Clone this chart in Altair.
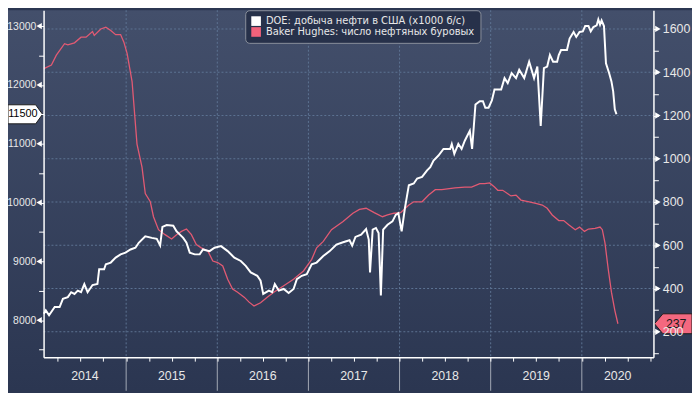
import altair as alt
import pandas as pd

FONT = "Liberation Sans"
LFONT = "DejaVu Sans"
DOE_NAME = "DOE: добыча нефти в США (х1000 б/с)"
RIG_NAME = "Baker Hughes: число нефтяных буровых"

# DOE weekly crude production (thousand b/d), x as decimal year
doe_year = [2014.097, 2014.118, 2014.154, 2014.216, 2014.27, 2014.306, 2014.36, 2014.397, 2014.433, 2014.469,
            2014.505, 2014.541, 2014.577, 2014.631, 2014.685, 2014.704, 2014.758, 2014.777, 2014.831, 2014.885,
            2014.939, 2014.993, 2015.048, 2015.102, 2015.138, 2015.21, 2015.282, 2015.336, 2015.373, 2015.398,
            2015.445, 2015.517, 2015.553, 2015.59, 2015.626, 2015.662, 2015.698, 2015.753, 2015.807, 2015.843,
            2015.915, 2015.97, 2016.041, 2016.114, 2016.187, 2016.258, 2016.312, 2016.367, 2016.439, 2016.475,
            2016.504, 2016.566, 2016.602, 2016.631, 2016.675, 2016.729, 2016.783, 2016.837, 2016.873, 2016.927,
            2016.982, 2017.036, 2017.09, 2017.163, 2017.234, 2017.307, 2017.38, 2017.451, 2017.48, 2017.516,
            2017.578, 2017.633, 2017.662, 2017.676, 2017.705, 2017.741, 2017.77, 2017.795, 2017.82, 2017.868,
            2017.922, 2017.958, 2017.987, 2018.023, 2018.059, 2018.102, 2018.156, 2018.193, 2018.247, 2018.302,
            2018.337, 2018.373, 2018.427, 2018.482, 2018.555, 2018.573, 2018.601, 2018.645, 2018.681, 2018.716,
            2018.753, 2018.771, 2018.796, 2018.833, 2018.88, 2018.915, 2018.941, 2018.977, 2019.013, 2019.042,
            2019.115, 2019.152, 2019.187, 2019.23, 2019.278, 2019.313, 2019.368, 2019.422, 2019.476, 2019.512,
            2019.549, 2019.584, 2019.62, 2019.65, 2019.685, 2019.729, 2019.747, 2019.772, 2019.837, 2019.866,
            2019.91, 2019.939, 2019.975, 2020.011, 2020.037, 2020.073, 2020.098, 2020.127, 2020.163, 2020.181,
            2020.2, 2020.217, 2020.243, 2020.265, 2020.30, 2020.325, 2020.344, 2020.362, 2020.38]
doe_value = [8111, 8167, 8083, 8224, 8224, 8363, 8392, 8476, 8447, 8503,
             8476, 8615, 8476, 8598, 8615, 8867, 8867, 8951, 8980, 9064,
             9119, 9148, 9203, 9232, 9316, 9427, 9400, 9383, 9270, 9585,
             9618, 9606, 9511, 9455, 9400, 9316, 9148, 9119, 9119, 9203,
             9175, 9232, 9259, 9175, 9064, 9007, 8923, 8812, 8755, 8671,
             8447, 8503, 8476, 8615, 8503, 8531, 8464, 8531, 8699, 8755,
             8783, 8951, 8980, 9091, 9175, 9287, 9326, 9359, 9270, 9416,
             9455, 9551, 9371, 8812, 9539, 9568, 9484, 8419, 9539, 9623,
             9679, 9791, 9819, 9511, 9904, 10295, 10324, 10408, 10435, 10547,
             10603, 10715, 10799, 10911, 10911, 10996, 10828, 10996, 10911, 11051,
             11164, 11219, 10911, 11668, 11723, 11723, 11611, 11611, 11735, 11920,
             11920, 12115, 12031, 12199, 12115, 12256, 12115, 12395, 12115, 12311,
             11303, 12283, 12311, 12508, 12395, 12395, 12508, 12592, 12592, 12787,
             12899, 12815, 12899, 12910, 13000, 13000, 12910, 12983, 13011, 13112,
             13022, 13096, 13000, 12367, 12199, 12059, 11891, 11584, 11500]

# Baker Hughes US oil rig count
rig_year = [2014.097, 2014.18, 2014.234, 2014.324, 2014.36, 2014.433, 2014.505, 2014.56, 2014.631, 2014.65,
            2014.722, 2014.777, 2014.831, 2014.885, 2014.939, 2014.975, 2015.011, 2015.065, 2015.119, 2015.174,
            2015.21, 2015.265, 2015.30, 2015.355, 2015.427, 2015.499, 2015.553, 2015.607, 2015.662, 2015.716,
            2015.77, 2015.824, 2015.897, 2015.951, 2016.005, 2016.06, 2016.114, 2016.168, 2016.223, 2016.295,
            2016.349, 2016.403, 2016.475, 2016.548, 2016.62, 2016.729, 2016.837, 2016.946, 2017.036, 2017.09,
            2017.163, 2017.253, 2017.38, 2017.488, 2017.56, 2017.633, 2017.722, 2017.813, 2017.868, 2017.939,
            2018.012, 2018.102, 2018.156, 2018.247, 2018.319, 2018.392, 2018.464, 2018.608, 2018.716, 2018.79,
            2018.88, 2018.934, 2018.988, 2019.042, 2019.078, 2019.132, 2019.223, 2019.278, 2019.332, 2019.422,
            2019.495, 2019.566, 2019.62, 2019.675, 2019.747, 2019.801, 2019.856, 2019.928, 2019.975, 2020.029,
            2020.073, 2020.145, 2020.2, 2020.225, 2020.254, 2020.29, 2020.325, 2020.362, 2020.396]
rig_value = [1417, 1433, 1479, 1532, 1527, 1536, 1562, 1562, 1588, 1570,
             1600, 1608, 1593, 1574, 1574, 1539, 1486, 1357, 1068, 961,
             839, 801, 732, 672, 649, 629, 649, 664, 675, 649,
             603, 588, 573, 527, 520, 504, 443, 398, 383, 360,
             337, 319, 334, 360, 383, 413, 443, 481, 535, 588,
             618, 672, 710, 748, 766, 771, 751, 732, 740, 748,
             751, 786, 801, 801, 832, 857, 857, 865, 869, 869,
             885, 885, 888, 869, 854, 854, 828, 832, 809, 801,
             794, 786, 771, 740, 714, 714, 695, 672, 684, 664,
             675, 678, 684, 672, 611, 489, 383, 299, 237]

year_starts = [2015, 2016, 2017, 2018, 2019, 2020]
year_label_pos = [2014.547, 2015.5, 2016.5, 2017.5, 2018.5, 2019.5, 2020.393]
year_labels = ["2014", "2015", "2016", "2017", "2018", "2019", "2020"]
quarter_ticks = [2014.25, 2014.5, 2014.75, 2015.0, 2015.25, 2015.5, 2015.75, 2016.0, 2016.25, 2016.5,
                 2016.75, 2017.0, 2017.25, 2017.5, 2017.75, 2018.0, 2018.25, 2018.5, 2018.75, 2019.0,
                 2019.25, 2019.5, 2019.75, 2020.0, 2020.25, 2020.5, 2020.75]
left_ticks = [7500, 8000, 8500, 9000, 9500, 10000, 10500, 11000, 11500, 12000, 12500, 13000]
left_major = [8000, 9000, 10000, 11000, 12000, 13000]
right_ticks = [100, 200, 300, 400, 500, 600, 700, 800, 900, 1000, 1100, 1200, 1300, 1400, 1500, 1600, 1700]
right_major = [200, 400, 600, 800, 1000, 1200, 1400, 1600]

W, H = 617, 351
X_DOMAIN = [2014.094, 2020.786]
LABEL = "#e8e8e8"
GRID = "#5d7393"
PINK_LINE = "#e25a73"
PINK = "#f2627b"

x_scale = alt.Scale(domain=X_DOMAIN, nice=False, zero=False)
x_axis = alt.Axis(values=quarter_ticks, labels=False, tickSize=4, tickColor="white", tickWidth=1,
                  domainColor="white", domainWidth=1.5, grid=False, title=None, orient="bottom", zindex=1)


def xenc(field):
    return alt.X(f"{field}:Q", scale=x_scale, axis=x_axis)


ls = alt.Scale(domain=[7372, 13269], nice=False, zero=False)
rs = alt.Scale(domain=[82.5, 1686.8], nice=False, zero=False)
l_axis = alt.Axis(orient="left", values=left_ticks, format="d",
                  labelExpr="datum.value % 1000 == 0 ? datum.label : ''",
                  tickSize=5, tickColor="white", tickWidth=1, domainColor="white", domainWidth=1.5,
                  labelColor=LABEL, labelFont=FONT, labelFontSize=10.5, labelPadding=3,
                  grid=False, title=None, zindex=1)
r_axis = alt.Axis(orient="right", values=right_ticks, format="d",
                  labelExpr="datum.value % 200 == 0 ? datum.label : ''",
                  tickSize=5, tickColor="white", tickWidth=1, domainColor="white", domainWidth=1.5,
                  labelColor=LABEL, labelFont=FONT, labelFontSize=12.5, labelPadding=4,
                  grid=False, title=None, zindex=1)

color_scale = alt.Scale(domain=[DOE_NAME, RIG_NAME], range=["#ffffff", PINK])
legend = alt.Legend(title=None, orient="none", legendX=204, legendY=0, fillColor="#27314a",
                    strokeColor="#8a909c", cornerRadius=4, padding=6, symbolType="square",
                    symbolSize=95, symbolStrokeWidth=0, labelFont=LFONT, labelFontSize=10,
                    labelColor=LABEL, rowPadding=1, labelOffset=5, labelLimit=400, symbolOpacity=1)

doe_df = pd.DataFrame({"year": doe_year, "value": doe_value})
rig_df = pd.DataFrame({"year": rig_year, "value": rig_value})
one = pd.DataFrame({"a": [0]})

gradient = alt.LinearGradient(gradient="linear",
                              stops=[alt.GradientStop(color="#434f6b", offset=0),
                                     alt.GradientStop(color="#2b3651", offset=1)],
                              x1=0, x2=0, y1=0, y2=1)
bg = alt.Chart(one).mark_rect(color=gradient).encode(
    x=alt.value(-36), x2=alt.value(W + 39), y=alt.value(0), y2=alt.value(H + 34))

years_df = pd.DataFrame({"year": year_starts})
vgrid = alt.Chart(years_df).mark_rule(color=GRID, strokeDash=[2, 2], strokeWidth=1).encode(
    x=xenc("year"), y=alt.value(0), y2=alt.value(H))
seps = alt.Chart(years_df).mark_rule(color="#a3a9b5", strokeWidth=1).encode(
    x=xenc("year"), y=alt.value(H), y2=alt.value(H + 34))
ylabels = alt.Chart(pd.DataFrame({"pos": year_label_pos, "label": year_labels})).mark_text(
    color=LABEL, font=FONT, fontSize=12.5, baseline="middle").encode(
    x=xenc("pos"), y=alt.value(H + 19), text="label:N")

# legend driver (invisible squares; legend symbols drawn fully opaque)
legend_layer = alt.Chart(pd.DataFrame({"series": [DOE_NAME, RIG_NAME]})).mark_square(
    opacity=0, size=100).encode(
    x=alt.value(0), y=alt.value(0),
    color=alt.Color("series:N", scale=color_scale, legend=legend))

# right (rig count) group
hgrid = alt.Chart(pd.DataFrame({"v": right_major})).mark_rule(
    color=GRID, strokeDash=[2, 2], strokeWidth=1).encode(
    y=alt.Y("v:Q", scale=rs, axis=r_axis), x=alt.value(0), x2=alt.value(W))
rig_line = alt.Chart(rig_df).mark_line(strokeWidth=1.3, color=PINK_LINE).encode(
    x=xenc("year"), y=alt.Y("value:Q", scale=rs, axis=r_axis))
rtri = alt.Chart(pd.DataFrame({"v": right_major})).mark_point(
    shape="triangle-right", filled=True, color="white", size=40, opacity=1).encode(
    x=alt.value(W + 4.5), y=alt.Y("v:Q", scale=rs, axis=r_axis))
rig_last = pd.DataFrame({"v": [rig_value[-1]]})
PATH_L = "M1,-0.53 L-0.55,-0.53 L-1,0 L-0.55,0.53 L1,0.53 Z"
rbadge = alt.Chart(rig_last).mark_point(
    shape=PATH_L, size=38 * 38, filled=True, fill="#f4687f", stroke="#1e1e1e", strokeWidth=1,
    opacity=1).encode(x=alt.value(W + 20), y=alt.Y("v:Q", scale=rs, axis=r_axis))
rtext = alt.Chart(rig_last).mark_text(color="#1a1a1a", font=FONT, fontSize=12.5, baseline="middle").encode(
    x=alt.value(W + 23), y=alt.Y("v:Q", scale=rs, axis=r_axis), text=alt.Text("v:Q", format="d"))
right_group = alt.layer(hgrid, rig_line, rtri, rbadge, rtext)

# left (DOE) group
doe_line = alt.Chart(doe_df).mark_line(strokeWidth=2, color="white").encode(
    x=xenc("year"), y=alt.Y("value:Q", scale=ls, axis=l_axis))
ltri = alt.Chart(pd.DataFrame({"v": left_major})).mark_point(
    shape="triangle-left", filled=True, color="white", size=40, opacity=1).encode(
    x=alt.value(-4.5), y=alt.Y("v:Q", scale=ls, axis=l_axis))
doe_last = pd.DataFrame({"v": [doe_value[-1]]})
PATH_R = "M-1,-0.55 L0.6,-0.55 L1,0 L0.6,0.55 L-1,0.55 Z"
lbadge = alt.Chart(doe_last).mark_point(
    shape=PATH_R, size=35 * 35, filled=True, fill="white", stroke="#1e1e1e", strokeWidth=1,
    opacity=1).encode(x=alt.value(-18.5), y=alt.Y("v:Q", scale=ls, axis=l_axis))
ltext = alt.Chart(doe_last).mark_text(color="#000000", font=FONT, fontSize=11, baseline="middle").encode(
    x=alt.value(-21), y=alt.Y("v:Q", scale=ls, axis=l_axis), text=alt.Text("v:Q", format="d"))
left_group = alt.layer(doe_line, ltri, lbadge, ltext)

chart = alt.layer(bg, vgrid, seps, ylabels, legend_layer, right_group, left_group).resolve_scale(
    y="independent").properties(
    width=W, height=H,
    autosize=alt.AutoSizeParams(type="none"),
    padding={"left": 36, "top": 0, "right": 39, "bottom": 34},
    background="#2b3651",
).configure_view(stroke=None)

chart.save("out.html", embed_options={"renderer": "svg", "actions": False})
